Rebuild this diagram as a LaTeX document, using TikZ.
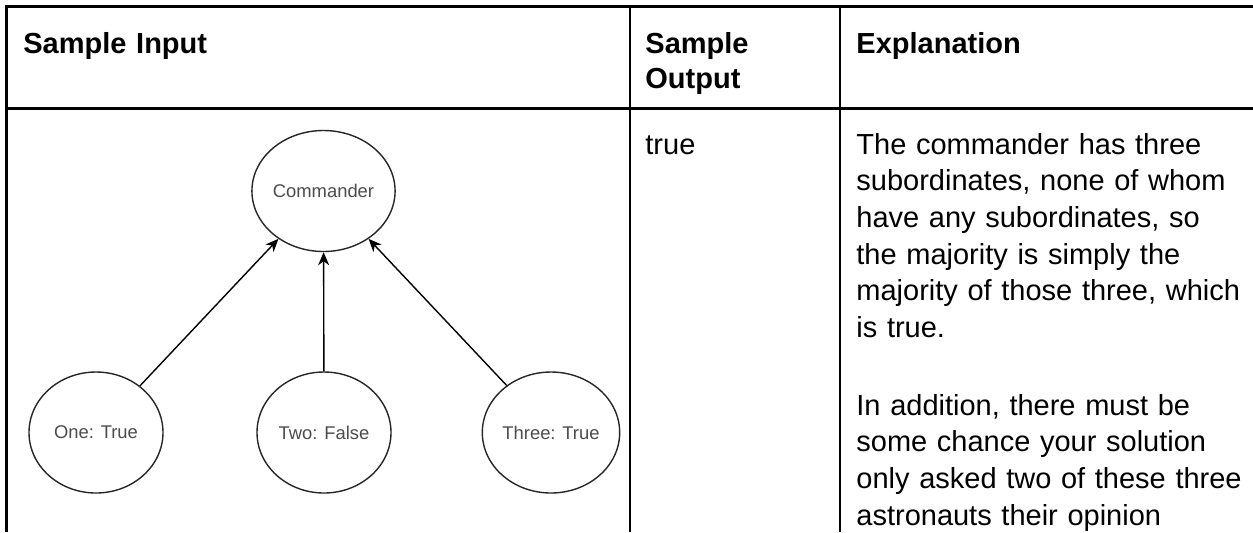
\documentclass[tikz,border=0pt]{standalone}
\usepackage{fontspec}
\setmainfont{Liberation Sans}
\usetikzlibrary{shapes.geometric,arrows.meta}
\begin{document}
\begin{tikzpicture}[x=0.5pt,y=-0.5pt,
  rule/.style={line width=1.4pt,black},
  member/.style={ellipse,draw=black!85,line width=0.7pt,minimum width=67pt,
    minimum height=60.5pt,inner sep=0pt,text=black!70,
    font=\fontsize{9.2}{11}\selectfont},
  reports/.style={-{Stealth[length=6.5pt,width=5.5pt,inset=2pt]},line width=0.7pt},
  head/.style={anchor=base west,inner sep=0pt,text width=100pt,align=left,
    font=\fontsize{14.5}{17.9}\selectfont\bfseries},
  body/.style={anchor=base west,inner sep=0pt,text width=200pt,align=left,
    font=\fontsize{14.5}{18.35}\selectfont}]
  % page area
  \useasboundingbox[fill=white] (0,0) rectangle (1253,532);

  % table rules
  \draw[rule] (6.5,532) -- (6.5,6.5) -- (1253,6.5);
  \draw[rule] (6.5,108.5) -- (1253,108.5);
  \draw[rule] (630,6.5) -- (630,532);
  \draw[rule] (840,6.5) -- (840,532);

  % header row
  \node[head] (hin)  at (23,53)  {Sample Input};
  \node[head] (hout) at (645,53) {Sample\\Output};
  \node[head] (hexp) at (856,53) {Explanation};

  % body row
  \node[body] (out)  at (645,154) {true};
  \node[body] (exp1) at (856,154) {The commander has three\\
    subordinates, none of whom\\
    have any subordinates, so\\
    the majority is simply the\\
    majority of those three, which\\
    is true.};
  \node[body] (exp2) at (856,415) {In addition, there must be\\
    some chance your solution\\
    only asked two of these three\\
    astronauts their opinion};

  % sample tree
  \node[member] (cmd)   at (323.5,191)  {Commander};
  \node[member] (one)   at (96,432.5)   {One: True};
  \node[member] (two)   at (324,432.5)  {Two: False};
  \node[member] (three) at (551,432.5)  {Three: True};

  \draw[reports] (one)   -- (cmd);
  \draw[reports] (two)   -- (cmd);
  \draw[reports] (three) -- (cmd);
\end{tikzpicture}
\end{document}
